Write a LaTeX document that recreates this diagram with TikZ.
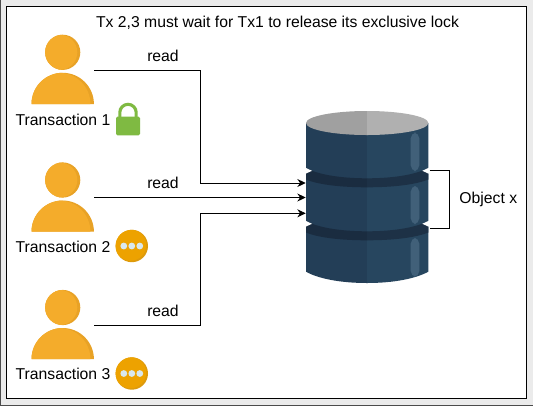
\documentclass[tikz,border=0pt]{standalone}
\usepackage{fontspec}
\setmainfont{Liberation Sans}
\usetikzlibrary{arrows.meta}
\definecolor{outerbg}{HTML}{EBEBEB}
\definecolor{pers}{HTML}{F4AC2B}
\definecolor{persd}{HTML}{E8A226}
\definecolor{dbl}{HTML}{27465F}
\definecolor{dbd}{HTML}{233E57}
\definecolor{bandl}{HTML}{1D3146}
\definecolor{bandd}{HTML}{1A2C40}
\definecolor{dbs}{HTML}{416079}
\definecolor{topl}{HTML}{B0B0B0}
\definecolor{topd}{HTML}{A0A0A0}
\definecolor{lockg}{HTML}{7FBA42}
\definecolor{waito}{HTML}{EDA200}
\definecolor{waitd}{HTML}{DD9A0C}
\definecolor{dotc}{HTML}{D9E8EE}
\tikzset{
 lbl/.style={inner sep=0pt,font=\fontsize{11.8}{13}\selectfont,text=black},
 conn/.style={draw=black,line width=0.75pt,-{Stealth[length=6.3pt,width=6pt]}},
 plainline/.style={draw=black,line width=0.75pt},
 personbox/.style={inner sep=0pt,minimum width=47.25pt,minimum height=51.75pt},
 dbbox/.style={inner sep=0pt,minimum width=91.5pt,minimum height=129pt}
}
\newcommand{\personfig}[2]{
 \begin{scope}[shift={(#1,#2)}]
  \fill[persd] (0,0) circle (17.6);
  \begin{scope}\clip (0,0) circle (17.6); \fill[pers] (-3,0) circle (17.6);\end{scope}
  \fill[persd] (-31.2,51.7) arc[start angle=180,end angle=360,x radius=31.2,y radius=31.2] -- cycle;
  \begin{scope}\clip (-31.2,51.7) arc[start angle=180,end angle=360,x radius=31.2,y radius=31.2] -- cycle;
   \fill[pers] (-3.5,51.7) ellipse (31.2 and 31.2);\end{scope}
 \end{scope}}
\newcommand{\waitfig}[2]{
 \begin{scope}[shift={(#1,#2)}]
  \fill[waitd] (0,0) circle (16.2);
  \begin{scope}\clip (0,0) circle (16.2);\fill[waito] (-1.2,-0.8) circle (15.6);\end{scope}
  \foreach \x in {-8,0,8}{\fill[dotc] (\x,0) circle (3.4);}
 \end{scope}}
\begin{document}
\begin{tikzpicture}[x=0.75pt,y=-0.75pt]
\useasboundingbox (0,0) rectangle (533,405);
\fill[outerbg] (0,0) rectangle (533,405);
\draw[black!70,line width=0.75pt] (0,0) -- (0,405) -- (533,405);
\draw[black,line width=1.1pt,fill=white] (6.5,6.5) rectangle (526.5,398.5);

% persons
\personfig{62.7}{52.3}
\personfig{62.7}{180}
\personfig{62.7}{307.5}
\node[personbox] (person1) at (62.5,70) {};
\node[personbox] (person2) at (62.5,197.5) {};
\node[personbox] (person3) at (62.5,325) {};

% lock
\draw[lockg,line width=2.3pt] (119.8,120) -- (119.8,112.5) arc[start angle=180,end angle=360,radius=8.2] -- (136.2,120);
\fill[lockg,rounded corners=1pt] (116,116.7) rectangle (140,135.3);

% waiting icons
\waitfig{131.8}{246}
\waitfig{131.8}{373.5}

% database
\fill[dbd] (306,123) -- (367,123) -- (367,283) .. controls (340,283) and (318,278.5) .. (306,271.7) -- cycle;
\fill[dbl] (367,123) -- (428.3,123) -- (428.3,271.7) .. controls (416,278.5) and (394,283) .. (367,283) -- cycle;
\fill[topd] (367,111) arc[start angle=-90,end angle=-270,x radius=61,y radius=12] -- cycle;
\fill[topl] (367,111) arc[start angle=-90,end angle=90,x radius=61.3,y radius=12] -- cycle;
\foreach \yy in {168,221}{
 \fill[bandd] (306,\yy) .. controls (318,\yy+6.5) and (340,\yy+10.3) .. (367,\yy+10.3) -- (367,\yy+19.3) .. controls (340,\yy+19.3) and (318,\yy+16.5) .. (306,\yy+11.5) -- cycle;
 \fill[bandl] (428.3,\yy) .. controls (416,\yy+6.5) and (394,\yy+10.3) .. (367,\yy+10.3) -- (367,\yy+19.3) .. controls (394,\yy+19.3) and (416,\yy+16.5) .. (428.3,\yy+11.5) -- cycle;
 \fill[white] (305,\yy-0.5) -- (306,\yy) -- (312,\yy+2.8) -- (306,\yy+5.5) -- (305,\yy+5.5) -- cycle;
 \fill[white] (429.3,\yy-0.5) -- (428.3,\yy) -- (422.3,\yy+2.8) -- (428.3,\yy+5.5) -- (429.3,\yy+5.5) -- cycle;
}
\foreach \a/\b in {132.7/171,186/224,238/276.7}{
 \fill[dbs,rounded corners=4.2pt] (410.7,\a) rectangle (419.3,\b);
}
\node[dbbox] (db) at (367,197) {};

% labels
\node[lbl] (title) at (277.5,22.5) {Tx 2,3 must wait for Tx1 to release its exclusive lock};
\node[lbl] (tx1) at (63,119.5) {Transaction 1};
\node[lbl] (tx2) at (63,246.5) {Transaction 2};
\node[lbl] (tx3) at (63,373.5) {Transaction 3};
\node[lbl] (read1) at (163,55.5) {read};
\node[lbl] (read2) at (163,182.5) {read};
\node[lbl] (read3) at (163,310.5) {read};
\node[lbl] (objx) at (488.3,199) {Object x};

% connectors
\coordinate (dbin1) at (db.west |- 0,183);
\coordinate (dbin3) at (db.west |- 0,213.3);
\coordinate (brtop) at (429.5,170);
\coordinate (brbot) at (429.5,228.7);
\coordinate (brtopc) at (449.5,170);
\coordinate (brbotc) at (449.5,228.7);
\coordinate (bendx) at (200.5,0);
\draw[conn] (person1.east) -| (bendx |- dbin1) -- (dbin1);
\draw[conn] (person2.east) -- (person2.east -| db.west);
\draw[conn] (person3.east) -| (bendx |- dbin3) -- (dbin3);
\draw[plainline] (brtop) -- (brtopc) -- (brbotc) -- (brbot);
\end{tikzpicture}
\end{document}
